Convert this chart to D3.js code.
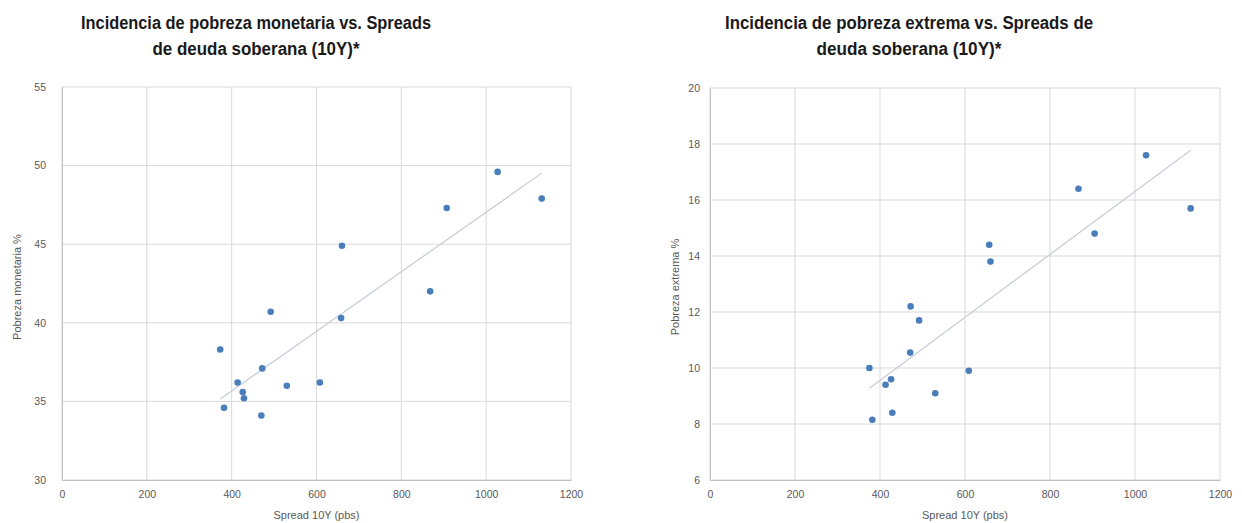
<!DOCTYPE html>
<html><head><meta charset="utf-8">
<script src="https://cdn.jsdelivr.net/npm/d3@7/dist/d3.min.js"></script>
<style>body{margin:0;background:#fff;}svg{display:block;font-family:"Liberation Sans",Arial,sans-serif;}</style>
</head><body>
<svg id="c" width="1242" height="523"></svg>
<script>
// Left chart: Incidencia de pobreza monetaria
const spreadMon = [373,382,414,426,429,472,470,492,530,608,658,660,868,907,1027,1131];
const pobrezaMon = [38.3,34.6,36.2,35.6,35.2,37.1,34.1,40.7,36.0,36.2,40.3,44.9,42.0,47.3,49.6,47.9];
// Right chart: Incidencia de pobreza extrema
const spreadExt = [375,382,413,426,429,471,472,492,530,609,657,660,867,905,1026,1131];
const pobrezaExt = [10.0,8.15,9.4,9.6,8.4,10.55,12.2,11.7,9.1,9.9,14.4,13.8,16.4,14.8,17.6,15.7];
const xTicks = [0,200,400,600,800,1000,1200];
const yTicksMon = [30,35,40,45,50,55];
const yTicksExt = [6,8,10,12,14,16,18,20];
const titleMon = ["Incidencia de pobreza monetaria vs. Spreads","de deuda soberana (10Y)*"];
const titleExt = ["Incidencia de pobreza extrema vs. Spreads de","deuda soberana (10Y)*"];
const xLabel = "Spread  10Y (pbs)";
const yLabelMon = "Pobreza monetaria  %";
const yLabelExt = "Pobreza extrema  %";

const svg = d3.select("#c");

function chart(cfg){
  const g = svg.append("g");
  const x = d3.scaleLinear().domain([0,1200]).range([cfg.x0,cfg.x1]);
  const y = d3.scaleLinear().domain(cfg.ydom).range([480,cfg.yTop]);
  // gridlines
  g.selectAll(".vg").data(cfg.xt).join("line")
    .attr("x1",d=>x(d)).attr("x2",d=>x(d)).attr("y1",y(cfg.ydom[0])).attr("y2",y(cfg.ydom[1]))
    .attr("stroke","#d9d9d9").attr("stroke-width",1);
  g.selectAll(".hg").data(cfg.yt).join("line")
    .attr("y1",d=>y(d)).attr("y2",d=>y(d)).attr("x1",x(0)).attr("x2",x(1200))
    .attr("stroke","#d9d9d9").attr("stroke-width",1);
  // axes
  const xa = g.append("g").attr("transform",`translate(0,${y(cfg.ydom[0])})`)
    .call(d3.axisBottom(x).tickValues(cfg.xt).tickFormat(d3.format("d")).tickSize(0).tickPadding(11));
  xa.select(".domain").attr("stroke","#bfbfbf");
  xa.selectAll("text").attr("fill","#595959").attr("font-size",10.5);
  const ya = g.append("g").attr("transform",`translate(${x(0)},0)`)
    .call(d3.axisLeft(y).tickValues(cfg.yt).tickFormat(d3.format("d")).tickSize(0).tickPadding(cfg.ypad));
  ya.select(".domain").attr("stroke","#bfbfbf");
  ya.selectAll("text").attr("fill","#595959").attr("font-size",10.5);
  // axis titles
  g.append("text").attr("x",(cfg.x0+cfg.x1)/2).attr("y",519).attr("text-anchor","middle")
    .attr("fill","#595959").attr("font-size",11).text(xLabel);
  g.append("text").attr("transform",`translate(${cfg.ytx},287) rotate(-90)`).attr("text-anchor","middle")
    .attr("fill","#595959").attr("font-size",11).text(cfg.ylab);
  // trend line (least squares)
  const xs = cfg.xs, ys = cfg.ys;
  const mx = d3.mean(xs), my = d3.mean(ys);
  const b = d3.sum(xs.map((v,i)=>(v-mx)*(ys[i]-my)))/d3.sum(xs.map(v=>(v-mx)*(v-mx)));
  const a = my - b*mx;
  const ext = d3.extent(xs);
  g.append("line").attr("x1",x(ext[0])).attr("x2",x(ext[1]))
    .attr("y1",y(a+b*ext[0])).attr("y2",y(a+b*ext[1]))
    .attr("stroke","#c5cbd8").attr("stroke-width",1.2);
  // points
  g.selectAll(".pt").data(xs.map((v,i)=>[v,ys[i]])).join("circle")
    .attr("cx",d=>x(d[0])).attr("cy",d=>y(d[1])).attr("r",3.3).attr("fill","#4a7ebb");
  // title
  cfg.title.forEach((t,i)=>{
    g.append("text").attr("x",cfg.tx).attr("y",29+i*26).attr("text-anchor","middle")
      .attr("font-weight","bold").attr("font-size",18).attr("fill","#1a1a1a")
      .attr("textLength",cfg.tl[i]).attr("lengthAdjust","spacingAndGlyphs").text(t);
  });
}

chart({x0:62,x1:571,yTop:87,ydom:[30,55],xt:xTicks,yt:yTicksMon,xs:spreadMon,ys:pobrezaMon,
  ylab:yLabelMon,ytx:21,ypad:16,title:titleMon,tx:256,tl:[350,207]});
chart({x0:710,x1:1220,yTop:88,ydom:[6,20],xt:xTicks,yt:yTicksExt,xs:spreadExt,ys:pobrezaExt,
  ylab:yLabelExt,ytx:679,ypad:10,title:titleExt,tx:909,tl:[368,185]});
</script>
</body></html>
